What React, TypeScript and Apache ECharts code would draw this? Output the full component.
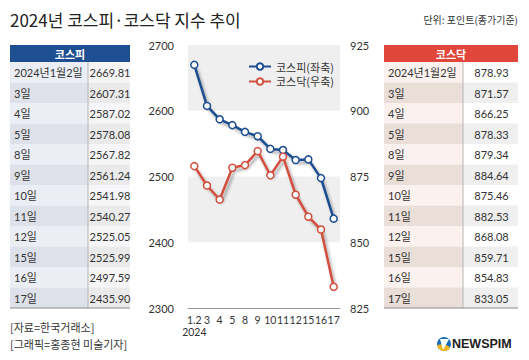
import React, { useEffect, useRef } from "react";
import * as echarts from "echarts";

const tableDays = ["2024년1월2일", "3일", "4일", "5일", "8일", "9일", "10일", "11일", "12일", "15일", "16일", "17일"];
const xLabels = ["1.2", "3", "4", "5", "8", "9", "10", "11", "12", "15", "16", "17"];
const yearLabel = "2024";
const kospi = [2669.81, 2607.31, 2587.02, 2578.08, 2567.82, 2561.24, 2541.98, 2540.27, 2525.05, 2525.99, 2497.59, 2435.9];
const kosdaq = [878.93, 871.57, 866.25, 878.33, 879.34, 884.64, 875.46, 882.53, 868.08, 859.71, 854.83, 833.05];
const kospiName = "코스피";
const kosdaqName = "코스닥";
const kospiLegend = "코스피(좌축)";
const kosdaqLegend = "코스닥(우축)";
const titleText = "2024년 코스피·코스닥 지수 추이";
const unitText = "단위: 포인트(종가기준)";
const sourceLines = ["[자료=한국거래소]", "[그래픽=홍종현 미술기자]"];

export default function App() {
  const ref = useRef<HTMLDivElement>(null);
  useEffect(() => {
    document.body.style.margin = "0";
    const chart = echarts.init(ref.current!, null, { renderer: "svg" });
    const KR = "'Noto Sans CJK KR', sans-serif";
    const NUM = "Lato, 'Noto Sans CJK KR', sans-serif";
    const rowTop = 62;
    const rowH = 20.5;
    const g: any[] = [];

    const table = (
      x0: number, xSep: number, x1: number, headColor: string, title: string,
      labelBg: string[], valBg: string[], values: number[]
    ) => {
      g.push({ type: "rect", shape: { x: x0, y: 45, width: x1 - x0, height: 17 }, style: { fill: headColor } });
      g.push({
        type: "text", x: (x0 + x1) / 2, y: 53.5,
        style: { text: title, fill: "#fff", fontSize: 11, fontWeight: "bold", fontFamily: KR, align: "center", verticalAlign: "middle" },
      });
      values.forEach((v, i) => {
        const y = rowTop + i * rowH;
        g.push({ type: "rect", shape: { x: x0, y, width: xSep - x0, height: rowH }, style: { fill: labelBg[i % 2] } });
        g.push({ type: "rect", shape: { x: xSep, y, width: x1 - xSep, height: rowH }, style: { fill: valBg[i % 2] } });
        g.push({
          type: "text", x: x0 + 4, y: y + rowH / 2 + 0.5,
          style: { text: tableDays[i], fill: "#333", fontSize: 11, fontFamily: NUM, align: "left", verticalAlign: "middle" },
        });
        g.push({
          type: "text", x: (xSep + x1) / 2 + 1, y: y + rowH / 2 + 0.5,
          style: { text: v.toFixed(2), fill: "#333", fontSize: 11, fontFamily: NUM, align: "center", verticalAlign: "middle" },
        });
      });
      g.push({ type: "line", shape: { x1: xSep, y1: rowTop, x2: xSep, y2: rowTop + 12 * rowH }, style: { stroke: "#b5b5b5", lineWidth: 1 } });
      g.push({ type: "line", shape: { x1: x0, y1: rowTop + 12 * rowH, x2: x1, y2: rowTop + 12 * rowH }, style: { stroke: "#8a8a8a", lineWidth: 1 } });
    };

    table(10, 88, 130, "#1f4f93", kospiName, ["#eceef5", "#dfe1ea"], ["#f6f6f8", "#eaeaea"], kospi);
    table(384, 463, 518, "#e0473a", kosdaqName, ["#fbf1ee", "#eaded9"], ["#ffffff", "#efefef"], kosdaq);

    g.push({
      type: "text", x: 10, y: 19,
      style: { text: titleText, fill: "#222", fontSize: 17, fontFamily: KR, align: "left", verticalAlign: "middle" },
    });
    g.push({
      type: "text", x: 518, y: 19,
      style: { text: unitText, fill: "#333", fontSize: 10, fontFamily: KR, align: "right", verticalAlign: "middle" },
    });
    sourceLines.forEach((s, i) => {
      g.push({
        type: "text", x: 10, y: 327 + i * 17,
        style: { text: s, fill: "#333", fontSize: 11, fontFamily: KR, align: "left", verticalAlign: "middle" },
      });
    });
    // logo
    g.push({ type: "circle", shape: { cx: 444, cy: 344, r: 7 }, style: { fill: "#1b6fb8" } });
    g.push({ type: "sector", shape: { cx: 444, cy: 344, r: 7, r0: 0, startAngle: Math.PI * 0.15, endAngle: Math.PI * 0.95 }, style: { fill: "#f3b61f" } });
    g.push({ type: "polygon", shape: { points: [[440, 339], [449, 339], [443, 350]] }, style: { fill: "#ffffff" } });
    g.push({
      type: "text", x: 452, y: 344,
      style: { text: "NEWSPIM", fill: "#222", fontSize: 12.5, fontWeight: "bold", fontFamily: "'Liberation Sans', Arial, sans-serif", align: "left", verticalAlign: "middle" },
    });

    const shadow = { shadowColor: "rgba(0,0,0,0.35)", shadowBlur: 3, shadowOffsetX: 2, shadowOffsetY: 3 };

    chart.setOption({
      animation: false,
      backgroundColor: "#ffffff",
      grid: { left: 188, width: 152, top: 45, height: 263 },
      legend: {
        orient: "vertical", left: 243, top: 56, itemGap: 4, itemWidth: 22, itemHeight: 8,
        textStyle: { fontSize: 11, color: "#333", fontFamily: KR },
        data: [kospiLegend, kosdaqLegend],
      },
      xAxis: {
        type: "category", data: xLabels, boundaryGap: true,
        axisLine: { lineStyle: { color: "#999" } },
        axisTick: { alignWithLabel: true, length: 4, lineStyle: { color: "#999" } },
        axisLabel: {
          interval: 0, fontSize: 10.5, color: "#333", fontFamily: NUM, margin: 6, lineHeight: 12,
          formatter: (v: string, i: number) => (i === 0 ? `${v}\n${yearLabel}` : v),
        },
      },
      yAxis: [
        {
          type: "value", min: 2300, max: 2700, interval: 100,
          axisLine: { show: false }, axisTick: { show: false }, splitLine: { show: false },
          axisLabel: { fontSize: 11, color: "#333", fontFamily: NUM, margin: 14, formatter: (v: number) => String(v) },
        },
        {
          type: "value", min: 825, max: 925, interval: 25,
          axisLine: { show: false }, axisTick: { show: false }, splitLine: { show: false },
          axisLabel: { fontSize: 11, color: "#333", fontFamily: NUM, margin: 10, formatter: (v: number) => String(v) },
        },
      ],
      series: [
        {
          name: kospiLegend, type: "line", yAxisIndex: 0, data: kospi, z: 3,
          symbol: "circle", symbolSize: 7, showSymbol: true,
          lineStyle: { color: "#1d4d8f", width: 2.5, ...shadow },
          itemStyle: { color: "#ffffff", borderColor: "#1d4d8f", borderWidth: 1.5 },
          markArea: {
            silent: true, itemStyle: { color: "#efefef" },
            data: [
              [{ yAxis: 2600 }, { yAxis: 2700 }],
              [{ yAxis: 2400 }, { yAxis: 2500 }],
            ],
          },
        },
        {
          name: kosdaqLegend, type: "line", yAxisIndex: 1, data: kosdaq, z: 4,
          symbol: "circle", symbolSize: 7, showSymbol: true,
          lineStyle: { color: "#d2503f", width: 2.5, ...shadow },
          itemStyle: { color: "#ffffff", borderColor: "#d2503f", borderWidth: 1.5 },
        },
      ],
      graphic: g,
    });
    return () => chart.dispose();
  }, []);
  return <div ref={ref} style={{ width: 529, height: 360 }} />;
}
